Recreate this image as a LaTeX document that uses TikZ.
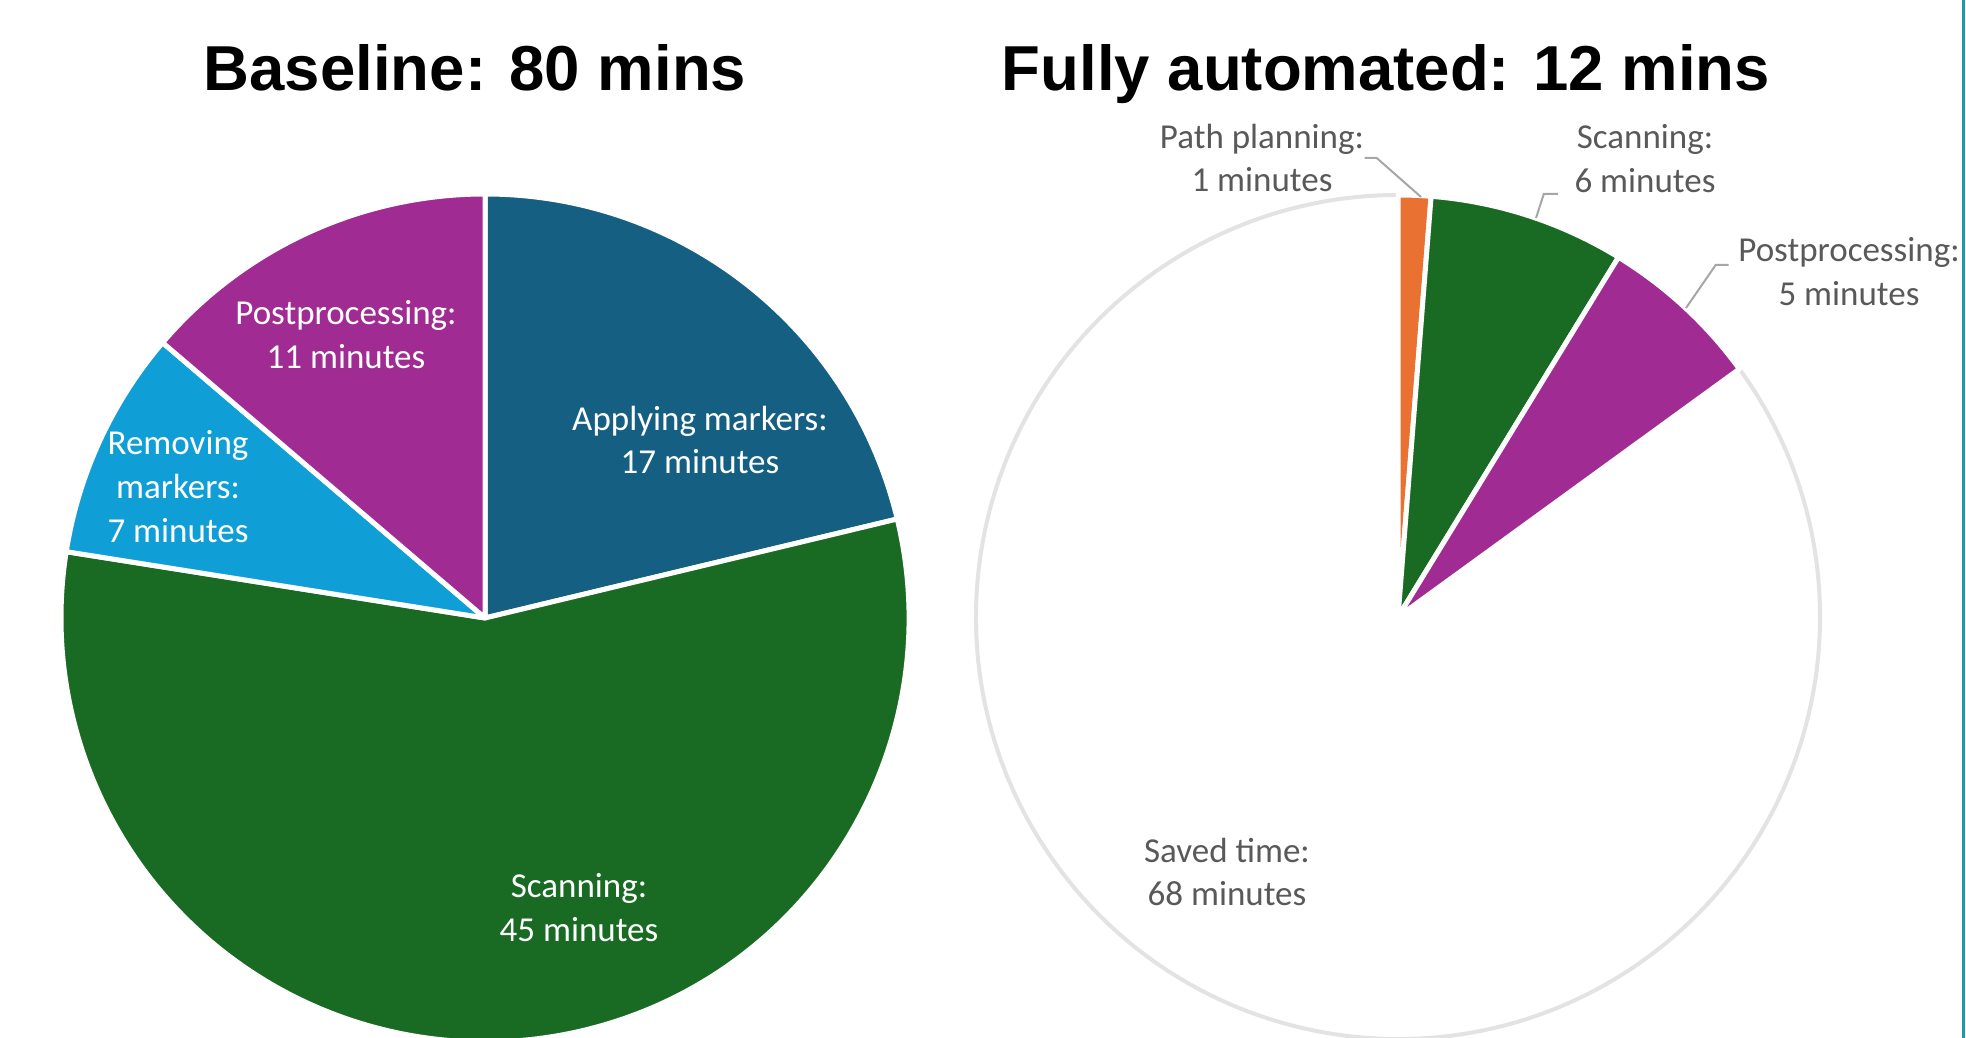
\documentclass[tikz,border=0pt]{standalone}
\usepackage{fontspec}
\setmainfont{Carlito}
\newfontfamily\headfont{Liberation Sans}
\definecolor{applyblue}{HTML}{156082}
\definecolor{scangreen}{HTML}{196B24}
\definecolor{removeblue}{HTML}{0F9ED5}
\definecolor{postpurple}{HTML}{A02B93}
\definecolor{planorange}{HTML}{E97132}
\definecolor{labelgrey}{HTML}{595959}
\definecolor{leadergrey}{HTML}{A6A6A6}
\definecolor{rimgrey}{HTML}{E3E3E3}
\definecolor{edgeteal}{HTML}{1C9AA5}
\def\pieslice[#1](#2)(#3:#4:#5){\draw[#1] (#2) -- ++(#3:#5) arc (#3:#4:#5) -- cycle;}

\begin{document}
\begin{tikzpicture}[x=0.1mm, y=0.1mm,
		wedge/.style={draw=white, line width=0.5mm, line join=round},
		inlabel/.style={text=white, align=center, inner sep=0pt, font=\fontsize{9.96pt}{12.5pt}\selectfont},
		outlabel/.style={inlabel, text=labelgrey},
		leader/.style={draw=leadergrey, line width=0.2mm},
		heading/.style={anchor=base, inner sep=0pt, font=\headfont\bfseries\fontsize{18.07pt}{21pt}\selectfont}]
			%%%%% START %%%%%
			
			\useasboundingbox (0,0) rectangle (1966,1038);
			\coordinate (lc) at (485,420);
			\coordinate (rc) at (1398,421);
			
			%%%%% BASELINE %%%%%
			\node[heading] (basetitle) at (475,947) {Baseline: 80 mins};
			
			\pieslice[wedge, fill=applyblue](lc)(90:13.5:424)
			\pieslice[wedge, fill=scangreen](lc)(13.5:-189:424)
			\pieslice[wedge, fill=removeblue](lc)(171:139.5:424)
			\pieslice[wedge, fill=postpurple](lc)(139.5:90:424)
			
			\node[inlabel] (applylab) at (700,598) {Applying markers:\\17 minutes};
			\node[inlabel] (scanlab) at (579,130) {Scanning:\\45 minutes};
			\node[inlabel] (removelab) at (178,551) {Removing\\markers:\\7 minutes};
			\node[inlabel] (postlab) at (346,703) {Postprocessing:\\11 minutes};
			
			%%%%% AUTOMATED %%%%%
			\node[heading] (autotitle) at (1386,947) {Fully automated: 12 mins};
			
			\pieslice[draw=rimgrey, line width=0.4mm, fill=white, line join=round](rc)(36:-270:422)
			\pieslice[wedge, fill=planorange](rc)(90:85.5:422)
			\pieslice[wedge, fill=scangreen](rc)(85.5:58.5:422)
			\pieslice[wedge, fill=postpurple](rc)(58.5:36:422)
			
			\node[outlabel] (planlab) at (1262,880) {Path planning:\\1 minutes};
			\node[outlabel] (autoscanlab) at (1645,879) {Scanning:\\6 minutes};
			\node[outlabel] (autopostlab) at (1849,766) {Postprocessing:\\5 minutes};
			\node[outlabel] (savedlab) at (1227,166) {Saved time:\\68 minutes};
			
			\coordinate (plantip) at (1421,841);
			\coordinate (scantip) at (1536,820);
			\coordinate (posttip) at (1686,730);
			\draw[leader] (planlab.east) -- ++(12,0) -- (plantip);
			\draw[leader] (autoscanlab.south west) ++(-16,0) -- ++(-14,0) -- (scantip);
			\draw[leader] (autopostlab.west) ++(-9,7) -- ++(-13,0) -- (posttip);
			
			\draw[edgeteal, line width=0.3mm] (1963,0) -- (1963,1038);
			
			%%%%% END %%%%%
		\end{tikzpicture}
\end{document}
